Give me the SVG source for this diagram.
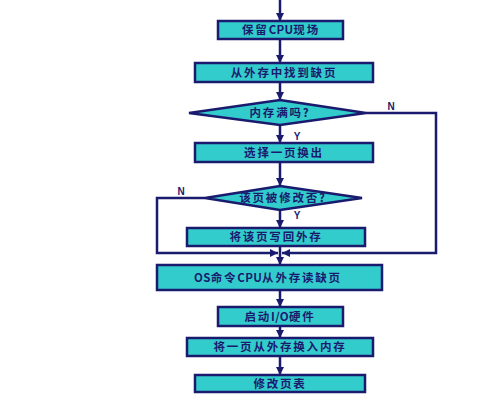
<svg xmlns="http://www.w3.org/2000/svg" width="500" height="400" viewBox="0 0 500 400">
<defs>
<marker id="ah" markerUnits="userSpaceOnUse" markerWidth="10" markerHeight="10" refX="8" refY="4" orient="auto">
<path d="M0,0 L8,4 L0,8 z" fill="#1a1a6e"/>
</marker>
<style>
.box{fill:#33cccc;stroke:#1a1a6e;stroke-width:2.5}
.t{font-family:"Noto Sans CJK SC","Noto Sans",sans-serif;font-size:11.5px;font-weight:bold;fill:#1a1a6e;text-anchor:middle;letter-spacing:1.8px}
.l{letter-spacing:0.3px}
.lbl{font-family:"Liberation Sans",Arial,sans-serif;font-size:10px;font-weight:bold;fill:#1a1a6e;text-anchor:middle}
.c{fill:none;stroke:#1a1a6e;stroke-width:2.5}
</style>
</defs>
<rect width="500" height="400" fill="#ffffff"/>
<g id="connectors">
<line class="c" x1="280" y1="0" x2="280" y2="21" marker-end="url(#ah)"/>
<line class="c" x1="280" y1="39" x2="280" y2="63" marker-end="url(#ah)"/>
<line class="c" x1="280" y1="82" x2="280" y2="100" marker-end="url(#ah)"/>
<line class="c" x1="280" y1="125" x2="280" y2="143" marker-end="url(#ah)"/>
<line class="c" x1="280" y1="162" x2="280" y2="186" marker-end="url(#ah)"/>
<line class="c" x1="280" y1="210" x2="280" y2="228" marker-end="url(#ah)"/>
<line class="c" x1="280" y1="246" x2="280" y2="265" marker-end="url(#ah)"/>
<polyline class="c" points="366,113 436,113 436,253 282,253" marker-end="url(#ah)"/>
<polyline class="c" points="205,198 157,198 157,253 278,253" marker-end="url(#ah)"/>
<line class="c" x1="280" y1="290" x2="280" y2="307" marker-end="url(#ah)"/>
<line class="c" x1="280" y1="326" x2="280" y2="338" marker-end="url(#ah)"/>
<line class="c" x1="280" y1="356" x2="280" y2="375" marker-end="url(#ah)"/>
<text class="lbl" x="391" y="110">N</text>
<text class="lbl" x="297" y="140">Y</text>
<text class="lbl" x="181" y="195">N</text>
<text class="lbl" x="297" y="219">Y</text>
</g>
<g id="n1"><rect class="box" x="218" y="21" width="125" height="18"/><text class="t" x="281" y="34">保留<tspan class="l">CPU</tspan>现场</text></g>
<g id="n2"><rect class="box" x="195" y="63" width="178" height="19"/><text class="t" x="284" y="77">从外存中找到缺页</text></g>
<g id="d1"><polygon class="box" points="280,100 366,113 280,125 189,113"/><text class="t" x="280" y="117">内存满吗?</text></g>
<g id="n3"><rect class="box" x="195" y="143" width="178" height="19"/><text class="t" x="284" y="157">选择一页换出</text></g>
<g id="d2"><polygon class="box" points="280,186 362,198 280,210 205,198"/><text class="t" x="283" y="202">该页被修改否?</text></g>
<g id="n4"><rect class="box" x="187" y="228" width="178" height="18"/><text class="t" x="276" y="241">将该页写回外存</text></g>
<g id="n5"><rect class="box" x="157" y="265" width="225" height="25"/><text class="t" x="268" y="282"><tspan class="l">OS</tspan>命令<tspan class="l">CPU</tspan>从外存读缺页</text></g>
<g id="n6"><rect class="box" x="218" y="307" width="125" height="19"/><text class="t" x="280" y="321">启动<tspan class="l">I/O</tspan>硬件</text></g>
<g id="n7"><rect class="box" x="187" y="338" width="186" height="18"/><text class="t" x="280" y="351">将一页从外存换入内存</text></g>
<g id="n8"><rect class="box" x="195" y="375" width="170" height="17"/><text class="t" x="280" y="388">修改页表</text></g>
</svg>
